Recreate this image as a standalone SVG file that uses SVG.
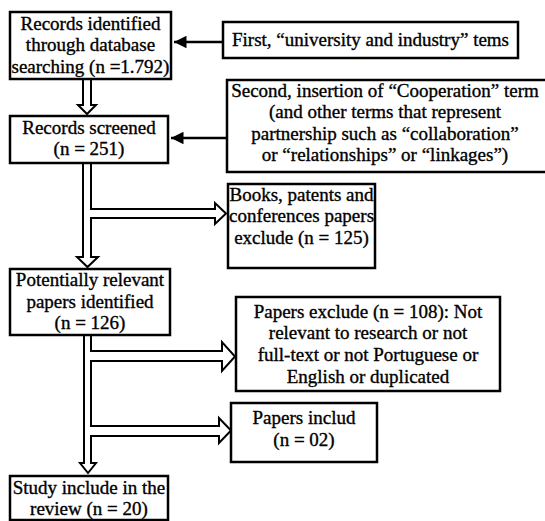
<svg xmlns="http://www.w3.org/2000/svg" width="545" height="521" viewBox="0 0 545 521">
<defs>
<style>
.box{fill:#fff;stroke:#000;stroke-width:2.5}
.t{font-family:"Liberation Serif","Times New Roman",serif;font-size:19px;fill:#000;stroke:#000;stroke-width:0.35;text-anchor:middle}
.dbl{fill:#fff;stroke:#000;stroke-width:2;stroke-linejoin:miter}
.ln{fill:none;stroke:#000;stroke-width:2.5}
</style>
<marker id="ah" viewBox="0 0 10 10" refX="10" refY="5" markerWidth="5.5" markerHeight="5" orient="auto" markerUnits="strokeWidth">
<path d="M0,0 L10,5 L0,10 z" fill="#000"/>
</marker>
</defs>
<rect width="545" height="521" fill="#fff"/>
<g id="connectors">
<line class="ln" x1="223" y1="42" x2="174" y2="42" marker-end="url(#ah)"/>
<line class="ln" x1="227" y1="138" x2="171" y2="138" marker-end="url(#ah)"/>
<path class="dbl" d="M83,79 V105 H78 L87,114 L96,105 H91 V79 Z"/>
<path class="dbl" d="M83,163 V257 H77 L87.5,267 L98,257 H91 V218 H215 V224 L226,213.5 L215,203 V209 H91 V163 Z"/>
<path class="dbl" d="M84,335 V463 H80 L88,473 L96,463 H91 V436 H219 V443 L231,430.5 L219,418 V426 H91 V361 H222 V371 L235,356.5 L222,342 V351 H91 V335 Z"/>
</g>
<g id="n1">
<rect class="box" x="10" y="12" width="161" height="67"/>
<text class="t" x="90.5" y="30">Records identified</text>
<text class="t" x="90.5" y="51">through database</text>
<text class="t" x="90.5" y="73">searching (n =1.792)</text>
</g>
<g id="n2">
<rect class="box" x="223" y="22" width="295" height="36"/>
<text class="t" x="370.5" y="46">First, “university and industry” tems</text>
</g>
<g id="n3">
<rect class="box" x="227" y="80" width="322" height="92"/>
<text class="t" x="385" y="97">Second, insertion of “Cooperation” term</text>
<text class="t" x="385" y="118">(and other terms that represent</text>
<text class="t" x="385" y="140">partnership such as “collaboration”</text>
<text class="t" x="385" y="161">or “relationships” or “linkages”)</text>
</g>
<g id="n4">
<rect class="box" x="10" y="116" width="158" height="47"/>
<text class="t" x="89" y="134">Records screened</text>
<text class="t" x="89" y="155">(n = 251)</text>
</g>
<g id="n5">
<rect class="box" x="228" y="184" width="147" height="84"/>
<text class="t" x="301.5" y="201">Books, patents and</text>
<text class="t" x="301.5" y="222">conferences papers</text>
<text class="t" x="301.5" y="244">exclude (n = 125)</text>
</g>
<g id="n6">
<rect class="box" x="10" y="269" width="160" height="66"/>
<text class="t" x="90" y="286">Potentially relevant</text>
<text class="t" x="90" y="308">papers identified</text>
<text class="t" x="90" y="329">(n = 126)</text>
</g>
<g id="n7">
<rect class="box" x="236" y="297" width="264" height="94"/>
<text class="t" x="368" y="318">Papers exclude (n = 108): Not</text>
<text class="t" x="368" y="339">relevant to research or not</text>
<text class="t" x="368" y="361">full-text or not Portuguese or</text>
<text class="t" x="368" y="383">English or duplicated</text>
</g>
<g id="n8">
<rect class="box" x="231" y="403" width="146" height="59"/>
<text class="t" x="304" y="424">Papers includ</text>
<text class="t" x="304" y="446">(n = 02)</text>
</g>
<g id="n9">
<rect class="box" x="10" y="476" width="158" height="44"/>
<text class="t" x="89" y="494">Study include in the</text>
<text class="t" x="89" y="515">review (n = 20)</text>
</g>
</svg>
